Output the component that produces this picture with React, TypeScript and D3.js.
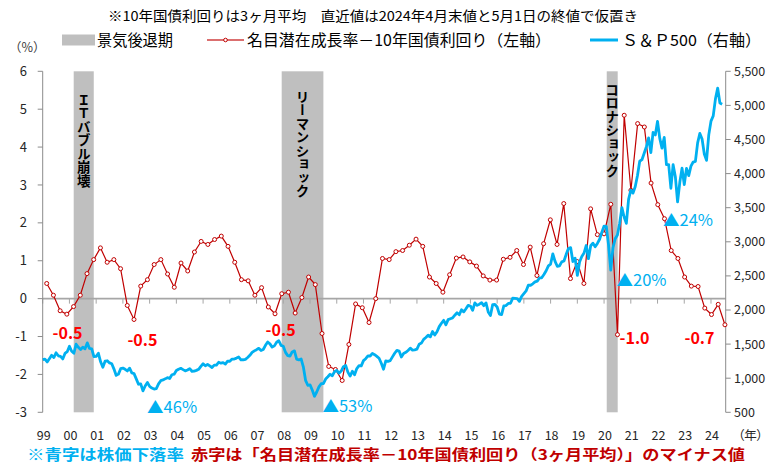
import React from 'react';
import * as d3 from 'd3';

// ---------- data ----------
// 名目潜在成長率－10年国債利回り (quarterly points, %)
const GAP_START = 1999.15;
const GAP_STEP = 0.2512;
const gapValues = [
  0.40, 0.09, -0.32, -0.41, -0.21, 0.09, 0.66, 1.03, 1.34, 0.96,
  1.03, 0.79, -0.18, -0.55, 0.33, 0.50, 0.90, 1.03, 0.65, 0.30,
  0.94, 0.73, 1.23, 1.51, 1.43, 1.56, 1.65, 1.38, 0.96, 0.50,
  0.47, 0.09, 0.29, -0.22, -0.40, 0.13, 0.17, -0.38, 0.03, 0.57,
  0.37, -0.92, -1.79, -1.87, -2.16, -1.21, -0.14, -0.24, -0.63, 0.00,
  1.06, 1.03, 1.24, 1.27, 1.41, 1.57, 1.38, 0.57, 0.40, 0.17,
  0.63, 1.07, 1.10, 0.97, 0.86, 0.60, 0.49, 0.49, 1.04, 1.09,
  1.27, 0.90, 1.36, 0.61, 1.45, 2.08, 1.43, 2.51, 0.53, 0.98,
  0.40, 2.37, 1.69, 1.71, 2.49, -0.95, 4.84, 2.86, 4.62, 4.53,
  3.05, 2.48, 2.11, 1.27, 1.06, 0.57, 0.33, 0.32, -0.25, -0.42,
  -0.15, -0.69,
];

// S&P500 (monthly, from start of 1999)
const SP_START = 1999.0;
const SP_STEP = 1 / 12;
const sp500Values = [
  1272,
  1279.6, 1238.3, 1286.4, 1335.2, 1301.8, 1372.7, 1328.7, 1320.4, 1282.7, 1362.9, 1389.0, 1469.3,
  1394.5, 1366.4, 1498.6, 1452.4, 1420.6, 1454.6, 1430.8, 1517.7, 1436.5, 1429.4, 1315.2, 1320.3,
  1366.0, 1239.9, 1160.3, 1249.5, 1255.8, 1224.4, 1211.2, 1133.6, 1040.9, 1059.8, 1139.5, 1148.1,
  1130.2, 1106.7, 1147.4, 1076.9, 1067.1, 989.8, 911.6, 916.1, 815.3, 885.8, 936.3, 879.8,
  855.7, 841.2, 848.2, 916.9, 963.6, 974.5, 990.3, 1008.0, 996.0, 1050.7, 1058.2, 1111.9,
  1131.1, 1144.9, 1126.2, 1107.3, 1120.7, 1140.8, 1101.7, 1104.2, 1114.6, 1130.2, 1173.8, 1211.9,
  1181.3, 1203.6, 1180.6, 1156.9, 1191.5, 1191.3, 1234.2, 1220.3, 1228.8, 1207.0, 1249.5, 1248.3,
  1280.1, 1280.7, 1294.8, 1310.6, 1270.1, 1270.2, 1276.7, 1303.8, 1335.8, 1377.9, 1400.6, 1418.3,
  1438.2, 1406.8, 1420.9, 1482.4, 1530.6, 1503.4, 1455.3, 1474.0, 1526.8, 1549.4, 1481.1, 1468.4,
  1378.6, 1330.6, 1322.7, 1385.6, 1400.4, 1280.0, 1267.4, 1282.8, 1166.4, 968.8, 896.2, 903.3,
  825.9, 735.1, 797.9, 872.8, 919.1, 919.3, 987.5, 1020.6, 1057.1, 1036.2, 1095.6, 1115.1,
  1073.9, 1104.5, 1169.4, 1186.7, 1089.4, 1030.7, 1101.6, 1049.3, 1141.2, 1183.3, 1180.6, 1257.6,
  1286.1, 1327.2, 1325.8, 1363.6, 1345.2, 1320.6, 1292.3, 1218.9, 1131.4, 1253.3, 1247.0, 1257.6,
  1312.4, 1365.7, 1408.5, 1397.9, 1310.3, 1362.2, 1379.3, 1406.6, 1440.7, 1412.2, 1416.2, 1426.2,
  1498.1, 1514.7, 1569.2, 1597.6, 1630.7, 1606.3, 1685.7, 1633.0, 1681.6, 1756.5, 1805.8, 1848.4,
  1782.6, 1859.5, 1872.3, 1883.9, 1923.6, 1960.2, 1930.7, 2003.4, 1972.3, 2018.1, 2067.6, 2058.9,
  1995.0, 2104.5, 2067.9, 2085.5, 2107.4, 2063.1, 2103.8, 1972.2, 1920.0, 2079.4, 2080.4, 2043.9,
  1940.2, 1932.2, 2059.7, 2065.3, 2096.9, 2098.9, 2173.6, 2170.9, 2168.3, 2126.2, 2199.0, 2238.8,
  2278.9, 2363.6, 2362.7, 2384.2, 2411.8, 2423.4, 2470.3, 2471.7, 2519.4, 2575.3, 2647.6, 2673.6,
  2823.8, 2713.8, 2640.9, 2648.1, 2705.3, 2718.4, 2816.3, 2901.5, 2914.0, 2711.7, 2760.2, 2506.9,
  2704.1, 2784.5, 2834.4, 2945.8, 2752.1, 2941.8, 2980.4, 2926.5, 2976.7, 3037.6, 3141.0, 3230.8,
  3225.5, 2954.2, 2584.6, 2912.4, 3044.3, 3100.3, 3271.1, 3500.3, 3363.0, 3270.0, 3621.6, 3756.1,
  3714.2, 3811.2, 3972.9, 4181.2, 4204.1, 4297.5, 4395.3, 4522.7, 4307.5, 4605.4, 4567.0, 4766.2,
  4515.6, 4373.9, 4530.4, 4131.9, 4132.2, 3785.4, 4130.3, 3955.0, 3585.6, 3872.0, 4080.1, 3839.5,
  4076.6, 3970.2, 4109.3, 4169.5, 4179.8, 4450.4, 4589.0, 4507.7, 4288.1, 4193.8, 4567.8, 4769.8,
  4845.7, 5096.3, 5254.4, 5035.7, 5018.4,
];

// 景気後退期
const recessionStarts = [2000.16, 2007.94, 2020.1];
const recessionEnds = [2000.91, 2009.5, 2020.51];
const recessionLabels = ['ＩＴバブル崩壊', 'リーマンショック', 'コロナショック'];

// axes
const leftTicks = [6, 5, 4, 3, 2, 1, 0, -1, -2, -3];
const rightTicks = [5500, 5000, 4500, 4000, 3500, 3000, 2500, 2000, 1500, 1000, 500];
const yearTicks = d3.range(1999, 2025);
const yearLabels = ['99', '00', '01', '02', '03', '04', '05', '06', '07', '08', '09', '10', '11', '12', '13', '14', '15', '16', '17', '18', '19', '20', '21', '22', '23', '24'];

// annotations (data coordinates: year, left-axis value)
const redNoteTexts = ['-0.5', '-0.5', '-0.5', '-1.0', '-0.7'];
const redNoteYears = [1999.93, 2002.73, 2007.9, 2021.14, 2023.57];
const redNoteValues = [-0.92, -1.1, -0.84, -1.05, -1.05];
const blueNoteTexts = ['▲46%', '▲53%', '▲20%', '▲24%'];
const blueNoteYears = [2003.84, 2010.4, 2021.4, 2023.14];
const blueNoteValues = [-2.87, -2.84, 0.48, 2.07];

const TITLE = '※10年国債利回りは3ヶ月平均　直近値は2024年4月末値と5月1日の終値で仮置き';
const LEGEND_REC = '景気後退期';
const LEGEND_GAP = '名目潜在成長率－10年国債利回り（左軸）';
const LEGEND_SP = 'Ｓ＆Ｐ500（右軸）';
const FOOT_BLUE = '※青字は株価下落率';
const FOOT_RED = '赤字は「名目潜在成長率－10年国債利回り（3ヶ月平均）」のマイナス値';

// ---------- layout ----------
const W = 766;
const H = 463;
const PLOT = { left: 42.7, right: 725.7, top: 71.3, bottom: 412.3 };
const X_DOMAIN: [number, number] = [1999, 2024.55];
const FONT = "'Noto Sans CJK JP', 'Noto Sans', sans-serif";
const RED = '#c00000';
const BRIGHT_RED = '#ff0000';
const BLUE = '#00b0f0';
const AXIS = '#8c8c8c';
const recLabelTops = [93, 90, 83];

export default function App() {
  const x = d3.scaleLinear().domain(X_DOMAIN).range([PLOT.left, PLOT.right]);
  const yL = d3.scaleLinear().domain([-3, 6]).range([PLOT.bottom, PLOT.top]);
  const yR = d3.scaleLinear().domain([500, 5500]).range([PLOT.bottom, PLOT.top]);

  const gap = gapValues.map((v, i) => ({ t: GAP_START + i * GAP_STEP, v }));
  const sp = sp500Values.map((v, i) => ({ t: SP_START + i * SP_STEP, v }));

  const gapLine = d3.line<{ t: number; v: number }>().x(d => x(d.t)).y(d => yL(d.v));
  const spLine = d3.line<{ t: number; v: number }>().x(d => x(d.t)).y(d => yR(d.v));
  const fmt = d3.format(',');

  return (
    <div style={{ position: 'absolute', left: 0, top: 0 }}>
      <svg width={W} height={H} style={{ display: 'block', background: '#fff' }} fontFamily={FONT}>
        {/* title */}
        <text x={108} y={21} fontSize={13.5} fill="#000" textLength={530} lengthAdjust="spacingAndGlyphs">{TITLE}</text>

        {/* legend */}
        <rect x={62} y={34.5} width={33} height={11} fill="#bfbfbf" />
        <text x={97} y={46} fontSize={15.5} fill="#000" textLength={76} lengthAdjust="spacingAndGlyphs">{LEGEND_REC}</text>
        <line x1={207} x2={244} y1={40} y2={40} stroke={RED} strokeWidth={1.6} opacity={0.75} />
        <circle cx={225.5} cy={40} r={1.8} fill="#fff" stroke={RED} strokeWidth={1} />
        <text x={247} y={46} fontSize={15.5} fill="#000" textLength={304} lengthAdjust="spacingAndGlyphs">{LEGEND_GAP}</text>
        <line x1={590} x2={618} y1={40} y2={40} stroke={BLUE} strokeWidth={3} />
        <text x={622} y={46} fontSize={15.5} fill="#000" textLength={139} lengthAdjust="spacingAndGlyphs">{LEGEND_SP}</text>

        <text x={9} y={52} fontSize={12.5} fill="#404040">（%）</text>

        {/* recession shading */}
        {recessionStarts.map((s, i) => (
          <rect key={'rec' + i} x={x(s)} y={PLOT.top} width={x(recessionEnds[i]) - x(s)} height={PLOT.bottom - PLOT.top} fill="#bfbfbf" />
        ))}

        {/* zero axis with year ticks */}
        <line x1={PLOT.left} x2={PLOT.right} y1={yL(0)} y2={yL(0)} stroke="#a6a6a6" strokeWidth={1.6} />
        {yearTicks.map(yr => (
          <line key={'xt' + yr} x1={x(yr)} x2={x(yr)} y1={yL(0)} y2={yL(0) + 5} stroke="#a6a6a6" strokeWidth={1} />
        ))}

        {/* left axis */}
        <line x1={PLOT.left} x2={PLOT.left} y1={PLOT.top} y2={PLOT.bottom} stroke={AXIS} strokeWidth={1} />
        {leftTicks.map(v => (
          <g key={'lt' + v}>
            <line x1={PLOT.left - 5} x2={PLOT.left} y1={yL(v)} y2={yL(v)} stroke={AXIS} strokeWidth={1} />
            <text x={27} y={yL(v) + 4.6} fontSize={13} textAnchor="end" fill="#262626">{v}</text>
          </g>
        ))}

        {/* right axis */}
        <line x1={PLOT.right} x2={PLOT.right} y1={PLOT.top} y2={PLOT.bottom} stroke={AXIS} strokeWidth={1} />
        {rightTicks.map(v => (
          <g key={'rt' + v}>
            <line x1={PLOT.right} x2={PLOT.right + 5} y1={yR(v)} y2={yR(v)} stroke={AXIS} strokeWidth={1} />
            <text x={734} y={yR(v) + 4.4} fontSize={12.5} fill="#262626">{fmt(v)}</text>
          </g>
        ))}

        {/* year labels */}
        {yearTicks.map((yr, i) => (
          <text key={'yl' + yr} x={x(yr) + 1} y={440} fontSize={12.5} textAnchor="middle" fill="#262626">{yearLabels[i]}</text>
        ))}
        <text x={738} y={440} fontSize={12.5} fill="#262626" style={{ fontFeatureSettings: '"palt"' }}>（年）</text>

        {/* recession labels */}
        {recessionStarts.map((s, i) => (
          <text key={'rl' + i} x={(x(s) + x(recessionEnds[i])) / 2} y={recLabelTops[i]} fontSize={13.5} fontWeight="bold" fill="#000" style={{ writingMode: 'vertical-rl' as any }}>{recessionLabels[i]}</text>
        ))}

        {/* series */}
        <path d={gapLine(gap) || ''} fill="none" stroke={RED} strokeWidth={1.2} />
        {gap.map((d, i) => (
          <circle key={'gp' + i} cx={x(d.t)} cy={yL(d.v)} r={2} fill="#fff" stroke={RED} strokeWidth={1} />
        ))}
        <path d={spLine(sp) || ''} fill="none" stroke={BLUE} strokeWidth={2.8} strokeLinejoin="round" />

        {/* annotations */}
        {redNoteTexts.map((t, i) => (
          <text key={'rn' + i} x={x(redNoteYears[i])} y={yL(redNoteValues[i])} dy="0.36em" fontSize={16} fontWeight="bold" textAnchor="middle" fill={BRIGHT_RED}>{t}</text>
        ))}
        {blueNoteTexts.map((t, i) => (
          <text key={'bn' + i} x={x(blueNoteYears[i])} y={yL(blueNoteValues[i])} dy="0.36em" fontSize={16} textAnchor="middle" fill={BLUE} textLength={50} lengthAdjust="spacingAndGlyphs">{t}</text>
        ))}

        {/* footer */}
        <text x={27} y={460} fontSize={14.5} fontWeight="bold" fill={BLUE} textLength={157} lengthAdjust="spacingAndGlyphs">{FOOT_BLUE}</text>
        <text x={191} y={460} fontSize={14.5} fontWeight="bold" fill={RED} textLength={554} lengthAdjust="spacingAndGlyphs">{FOOT_RED}</text>
      </svg>
    </div>
  );
}
